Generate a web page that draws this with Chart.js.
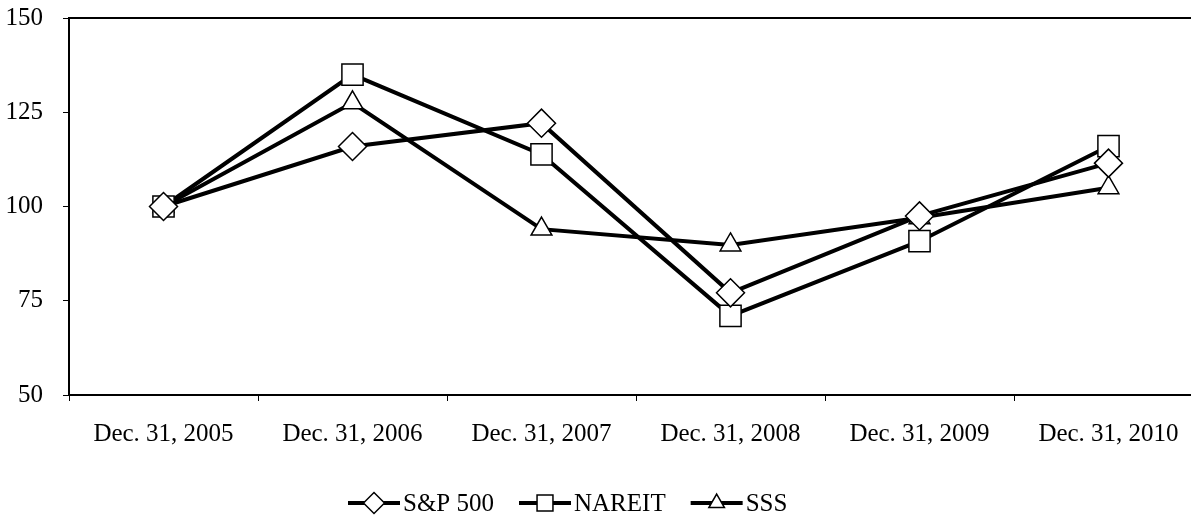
<!DOCTYPE html>
<html>
<head>
<meta charset="utf-8">
<script src="https://cdn.jsdelivr.net/npm/chart.js@4"></script>
<style>
  html, body { margin: 0; padding: 0; background: #fff; overflow: hidden; }
  #chart { display: block; }
</style>
</head>
<body>
<canvas id="chart" width="1206" height="516"></canvas>
<script>
const categories = ['Dec. 31, 2005', 'Dec. 31, 2006', 'Dec. 31, 2007', 'Dec. 31, 2008', 'Dec. 31, 2009', 'Dec. 31, 2010'];
const sp500 = [100, 115.9, 122.1, 77.1, 97.5, 111.5];
const nareit = [100, 135, 113.8, 71, 90.8, 116];
const sss = [100, 127.5, 94, 89.8, 97, 105];
const yTicks = [50, 75, 100, 125, 150];

const font = 'Liberation Serif, Times New Roman, serif';

function series(label, data, style, radius) {
  return {
    label: label,
    data: data,
    borderColor: '#000',
    borderWidth: 4,
    tension: 0,
    pointStyle: style,
    pointRadius: radius,
    pointHoverRadius: radius,
    pointBackgroundColor: '#fff',
    pointBorderColor: '#000',
    pointBorderWidth: 1.5
  };
}

// top edge of the plot frame + custom legend (line with marker in the middle)
const framePlugin = {
  id: 'frame',
  afterDraw(chart) {
    const ctx = chart.ctx;
    const a = chart.chartArea;
    ctx.save();
    ctx.strokeStyle = '#000';
    ctx.lineWidth = 2;
    ctx.beginPath();
    ctx.moveTo(a.left - 1, a.top);
    ctx.lineTo(a.right + 5, a.top);
    ctx.stroke();

    ctx.font = '25px ' + font;
    ctx.textBaseline = 'middle';
    let x = 348;
    const y = 503;
    chart.data.datasets.forEach(ds => {
      ctx.strokeStyle = '#000';
      ctx.lineWidth = 4;
      ctx.beginPath();
      ctx.moveTo(x, y);
      ctx.lineTo(x + 52, y);
      ctx.stroke();
      ctx.fillStyle = '#fff';
      ctx.lineWidth = 1.5;
      Chart.helpers.drawPoint(ctx, {pointStyle: ds.pointStyle, radius: ds.pointRadius * 0.75, borderWidth: 1.5}, x + 26, y);
      ctx.fillStyle = '#000';
      ctx.fillText(ds.label, x + 55, y + 1);
      x += 55 + ctx.measureText(ds.label).width + 25;
    });
    ctx.restore();
  }
};

new Chart(document.getElementById('chart'), {
  type: 'line',
  data: {
    labels: categories,
    datasets: [
      series('S&P 500', sp500, 'rectRot', 14),
      series('NAREIT', nareit, 'rect', 15),
      series('SSS', sss, 'triangle', 12)
    ]
  },
  options: {
    responsive: false,
    animation: false,
    events: [],
    layout: { autoPadding: false, padding: { top: 18, right: 3, left: 0, bottom: 0 } },
    plugins: { legend: { display: false }, tooltip: { enabled: false } },
    scales: {
      x: {
        offset: true,
        grid: { offset: true, drawOnChartArea: false, drawTicks: true, tickLength: 6, color: '#000', lineWidth: 1 },
        border: { display: true, color: '#000', width: 2 },
        ticks: { color: '#000', font: { family: font, size: 25 }, padding: 18, maxRotation: 0, autoSkip: false },
        afterFit(scale) {
          scale.height = 121;
          scale.paddingLeft = 0;
          scale.paddingRight = 0;
        }
      },
      y: {
        min: 50,
        max: 150,
        afterBuildTicks(scale) { scale.ticks = yTicks.map(v => ({ value: v })); },
        grid: { drawOnChartArea: false, drawTicks: true, tickLength: 6, color: '#000', lineWidth: 1 },
        border: { display: true, color: '#000', width: 2 },
        ticks: { color: '#000', font: { family: font, size: 25 }, padding: 20 },
        afterFit(scale) {
          scale.width = 69;
          scale.paddingTop = 0;
          scale.paddingBottom = 0;
        }
      }
    }
  },
  plugins: [framePlugin]
});
</script>
</body>
</html>
